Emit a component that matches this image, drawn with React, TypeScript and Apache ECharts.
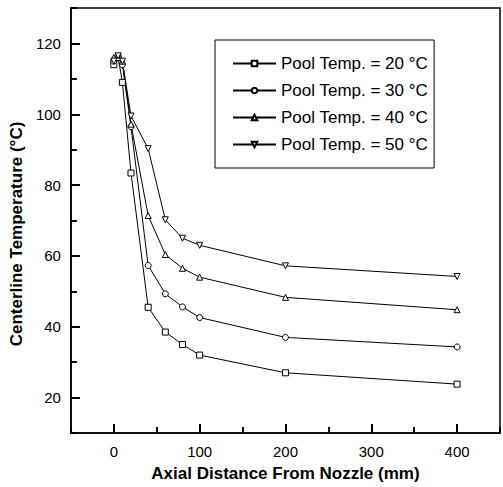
import React, { useEffect, useRef } from "react";
import * as echarts from "echarts";

const distances = [0, 5, 10, 20, 40, 60, 80, 100, 200, 400];
const pool20 = [114, 116, 109, 83.4, 45.5, 38.5, 35, 32, 27, 23.8];
const pool30 = [115, 116, 114, 96.5, 57.3, 49.3, 45.6, 42.6, 37, 34.3];
const pool40 = [116, 116, 115, 97.2, 71.4, 60.4, 56.5, 54, 48.3, 44.8];
const pool50 = [115, 116.5, 115, 99.5, 90.3, 70.2, 65, 63, 57.2, 54.2];
const seriesNames = ["Pool Temp. = 20 °C", "Pool Temp. = 30 °C", "Pool Temp. = 40 °C", "Pool Temp. = 50 °C"];
const xRange = [-50, 450];
const yRange = [10, 130];
const xLabelStep = 100;
const yLabelStep = 20;

export default function App() {
  const ref = useRef<HTMLDivElement>(null);
  useEffect(() => {
    const chart = echarts.init(ref.current!, null, { renderer: "svg" });
    const font = "'Liberation Sans', Arial, sans-serif";
    const values = [pool20, pool30, pool40, pool50];
    const symbols = ["rect", "circle", "triangle", "triangle"];
    const rotates = [0, 0, 0, 180];
    const tickLine = () => ({ color: "#000", width: 2 });
    chart.setOption({
      animation: false,
      textStyle: { fontFamily: font, color: "#000" },
      grid: { left: 69, right: 3, top: 8, bottom: 48, show: true, borderColor: "#000", borderWidth: 1.5 },
      legend: {
        orient: "vertical",
        left: 215,
        top: 40,
        padding: [15, 6, 15, 17],
        itemGap: 10,
        itemWidth: 43,
        itemHeight: 7,
        borderColor: "#000",
        borderWidth: 1,
        textStyle: { fontSize: 17, fontFamily: font, color: "#000" },
        data: seriesNames,
      },
      xAxis: [
        {
          type: "value",
          min: xRange[0],
          max: xRange[1],
          interval: xLabelStep / 2,
          name: "Axial Distance From Nozzle (mm)",
          nameLocation: "middle",
          nameGap: 32,
          nameTextStyle: { fontSize: 17, fontWeight: "bold", fontFamily: font, color: "#000" },
          axisLine: { onZero: false, lineStyle: { color: "#000", width: 1.5 } },
          axisTick: { show: false },
          axisLabel: {
            fontSize: 15,
            color: "#000",
            margin: 11,
            showMinLabel: false,
            showMaxLabel: false,
            formatter: (v: number) => (v % xLabelStep === 0 ? String(v) : ""),
          },
          splitLine: { show: false },
        },
        {
          type: "value",
          min: xRange[0],
          max: xRange[1],
          interval: xLabelStep,
          position: "bottom",
          axisLine: { show: false, onZero: false },
          axisTick: { show: true, inside: true, length: 6, lineStyle: tickLine() },
          minorTick: { show: true, splitNumber: 2, length: 9, lineStyle: tickLine() },
          axisLabel: { show: false },
          splitLine: { show: false },
        },
      ],
      yAxis: [
        {
          type: "value",
          min: yRange[0],
          max: yRange[1],
          interval: yLabelStep / 2,
          name: "Centerline Temperature (°C)",
          nameLocation: "middle",
          nameGap: 33,
          nameTextStyle: { fontSize: 17, fontWeight: "bold", fontFamily: font, color: "#000", padding: [0, 27, 0, 0] },
          axisLine: { onZero: false, lineStyle: { color: "#000", width: 1.5 } },
          axisTick: { show: false },
          axisLabel: {
            fontSize: 15,
            color: "#000",
            margin: 10,
            showMinLabel: false,
            showMaxLabel: false,
            formatter: (v: number) => (v % yLabelStep === 0 ? String(v) : ""),
          },
          splitLine: { show: false },
        },
        {
          type: "value",
          min: yRange[0],
          max: yRange[1],
          interval: yLabelStep,
          position: "left",
          axisLine: { show: false, onZero: false },
          axisTick: { show: true, inside: true, length: 6, lineStyle: tickLine() },
          minorTick: { show: true, splitNumber: 2, length: 9, lineStyle: tickLine() },
          axisLabel: { show: false },
          splitLine: { show: false },
        },
      ],
      series: values.map((v, i) => ({
        name: seriesNames[i],
        type: "line",
        xAxisIndex: 0,
        yAxisIndex: 0,
        data: distances.map((d, j) => [d, v[j]]),
        symbol: symbols[i],
        symbolRotate: rotates[i],
        symbolSize: 6,
        showAllSymbol: true,
        lineStyle: { color: "#000", width: 1 },
        itemStyle: { color: "#fff", borderColor: "#000", borderWidth: 1 },
      })),
    });
    return () => chart.dispose();
  }, []);
  return <div ref={ref} style={{ width: 503, height: 487, position: "absolute", left: 0, top: 0 }} />;
}
